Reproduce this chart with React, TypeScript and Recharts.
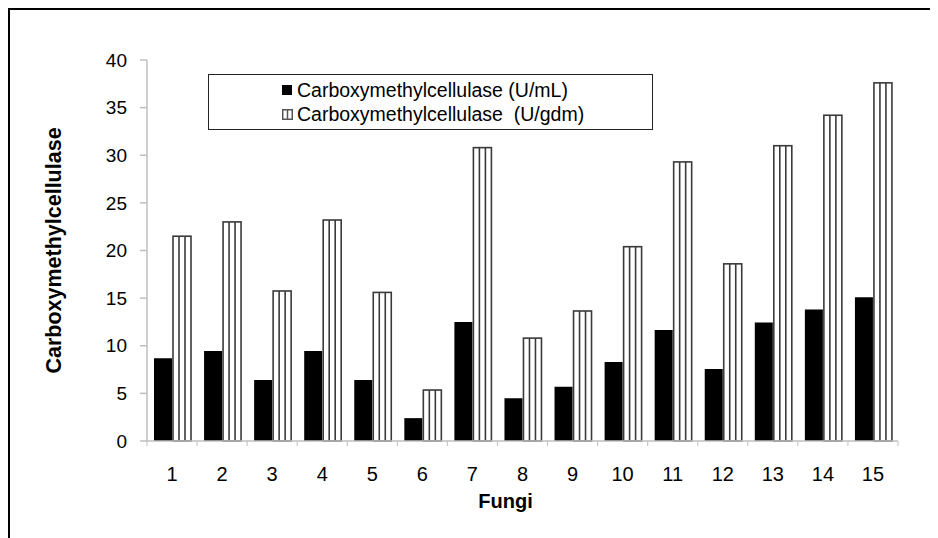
import React from 'react';
import { BarChart, Bar, XAxis, YAxis, Legend } from 'recharts';

const fungi = ['1', '2', '3', '4', '5', '6', '7', '8', '9', '10', '11', '12', '13', '14', '15'];
const cmcPerMl = [8.7, 9.45, 6.4, 9.45, 6.4, 2.4, 12.5, 4.5, 5.7, 8.3, 11.65, 7.55, 12.45, 13.8, 15.1];
const cmcPerGdm = [21.5, 23.0, 15.75, 23.2, 15.6, 5.35, 30.8, 10.8, 13.65, 20.4, 29.3, 18.6, 31.0, 34.2, 37.6];
const yTicks = [0, 5, 10, 15, 20, 25, 30, 35, 40];
const legendOrder = ['ml', 'gdm'];

const data = fungi.map((f, i) => ({ fungi: f, ml: cmcPerMl[i], gdm: cmcPerGdm[i] }));

const FONT = '"Liberation Sans", Arial, sans-serif';
const AXIS_GRAY = '#bfbfbf';
const STRIPE = '#3a3a3a';
const X_TICK_SIZE = 5;
const X_TICK_MARGIN = 21;

const StripedBar = (props: any) => {
  const { x, y, width, height } = props;
  if (!height || height <= 0) return null;
  return (
    <g>
      <rect x={x} y={y} width={width} height={height} fill="#fff" stroke={STRIPE} strokeWidth={1.6} />
      <line x1={x + width / 3} x2={x + width / 3} y1={y} y2={y + height} stroke={STRIPE} strokeWidth={1.6} />
      <line x1={x + (2 * width) / 3} x2={x + (2 * width) / 3} y1={y} y2={y + height} stroke={STRIPE} strokeWidth={1.6} />
    </g>
  );
};

const FungiTick = (props: any) => {
  const { x, y, payload, index } = props;
  const half = typeof payload.offset === 'number' && payload.offset > 0 ? payload.offset : 25;
  const axisY = y - X_TICK_SIZE - X_TICK_MARGIN;
  const last = index === fungi.length - 1;
  return (
    <g>
      <line x1={x - half} x2={x - half} y1={axisY} y2={axisY + X_TICK_SIZE} stroke={AXIS_GRAY} />
      {last && <line x1={x + half} x2={x + half} y1={axisY} y2={axisY + X_TICK_SIZE} stroke={AXIS_GRAY} />}
      <text x={x} y={y} dy="0.71em" textAnchor="middle" fontSize={20} fill="#000" fontFamily={FONT}>
        {payload.value}
      </text>
    </g>
  );
};

const LegendIcon = ({ striped }: { striped: boolean }) =>
  striped ? (
    <svg width={11} height={11} style={{ marginRight: 4 }}>
      <rect x={0.75} y={0.75} width={9.5} height={9.5} fill="#fff" stroke="#555" strokeWidth={1.5} />
      <line x1={5.5} x2={5.5} y1={0.75} y2={10.25} stroke="#555" strokeWidth={1.5} />
    </svg>
  ) : (
    <svg width={11} height={11} style={{ marginRight: 4 }}>
      <rect x={0} y={0} width={10} height={10} fill="#000" />
    </svg>
  );

const LegendBox = (props: any) => {
  const items = [...(props.payload || [])].sort(
    (a: any, b: any) => legendOrder.indexOf(a.dataKey) - legendOrder.indexOf(b.dataKey)
  );
  return (
    <div
      style={{
        width: 445,
        height: 56,
        boxSizing: 'border-box',
        border: '1.5px solid #222',
        background: '#fff',
        paddingLeft: 73,
        paddingTop: 3,
        fontFamily: FONT,
        fontSize: 19.5,
        color: '#000',
      }}
    >
      {items.map((entry: any) => (
        <div key={entry.value} style={{ display: 'flex', alignItems: 'center', height: 24, whiteSpace: 'pre' }}>
          <LegendIcon striped={entry.dataKey === 'gdm'} />
          <span>{entry.value}</span>
        </div>
      ))}
    </div>
  );
};

export default function App() {
  return (
    <div
      style={{
        position: 'relative',
        width: 930,
        height: 530,
        boxSizing: 'border-box',
        borderTop: '2px solid #000',
        borderLeft: '2px solid #000',
      }}
    >
      <div style={{ position: 'absolute', left: -10, top: -10 }}>
        <BarChart
          width={938}
          height={538}
          data={data}
          margin={{ top: 60, right: 40, bottom: 22, left: 0 }}
          barSize={18}
          barGap={1}
          style={{ fontFamily: FONT }}
        >
          <XAxis
            xAxisId="cat"
            dataKey="fungi"
            height={75}
            axisLine={{ stroke: AXIS_GRAY, strokeWidth: 1.5 }}
            tickLine={false}
            tickSize={X_TICK_SIZE}
            tickMargin={X_TICK_MARGIN}
            tick={<FungiTick />}
            interval={0}
            label={{
              value: 'Fungi',
              position: 'insideTop',
              offset: 53,
              dx: -17,
              style: { fontSize: 20, fontWeight: 'bold', fill: '#000', fontFamily: FONT },
            }}
          />
          <XAxis xAxisId="top" orientation="top" height={0} tick={false} tickLine={false} axisLine={{ stroke: AXIS_GRAY, strokeWidth: 1.5 }} />
          <YAxis
            yAxisId="left"
            width={147}
            domain={[0, 40]}
            ticks={yTicks}
            interval={0}
            axisLine={{ stroke: AXIS_GRAY, strokeWidth: 1.5 }}
            tickLine={{ stroke: AXIS_GRAY, strokeWidth: 1.5 }}
            tickSize={7}
            tickMargin={13}
            tick={{ fontSize: 19, fill: '#000', fontFamily: FONT }}
            label={{
              value: 'Carboxymethylcellulase',
              angle: -90,
              position: 'insideLeft',
              offset: 57,
              dx: -4,
              style: { fontSize: 21.5, fontWeight: 'bold', fill: '#000', fontFamily: FONT, textAnchor: 'middle' },
            }}
          />
          <YAxis yAxisId="right" orientation="right" width={0} tick={false} tickLine={false} axisLine={{ stroke: AXIS_GRAY, strokeWidth: 1.5 }} />
          <Legend
            layout="horizontal"
            verticalAlign="middle"
            align="center"
            wrapperStyle={{ left: 208, top: 74, width: 445, height: 56 }}
            content={<LegendBox />}
          />
          <Bar
            xAxisId="cat"
            yAxisId="left"
            dataKey="ml"
            name="Carboxymethylcellulase (U/mL)"
            fill="#000"
            isAnimationActive={false}
          />
          <Bar
            xAxisId="cat"
            yAxisId="left"
            dataKey="gdm"
            name="Carboxymethylcellulase  (U/gdm)"
            fill="#fff"
            shape={<StripedBar />}
            isAnimationActive={false}
          />
        </BarChart>
      </div>
    </div>
  );
}
